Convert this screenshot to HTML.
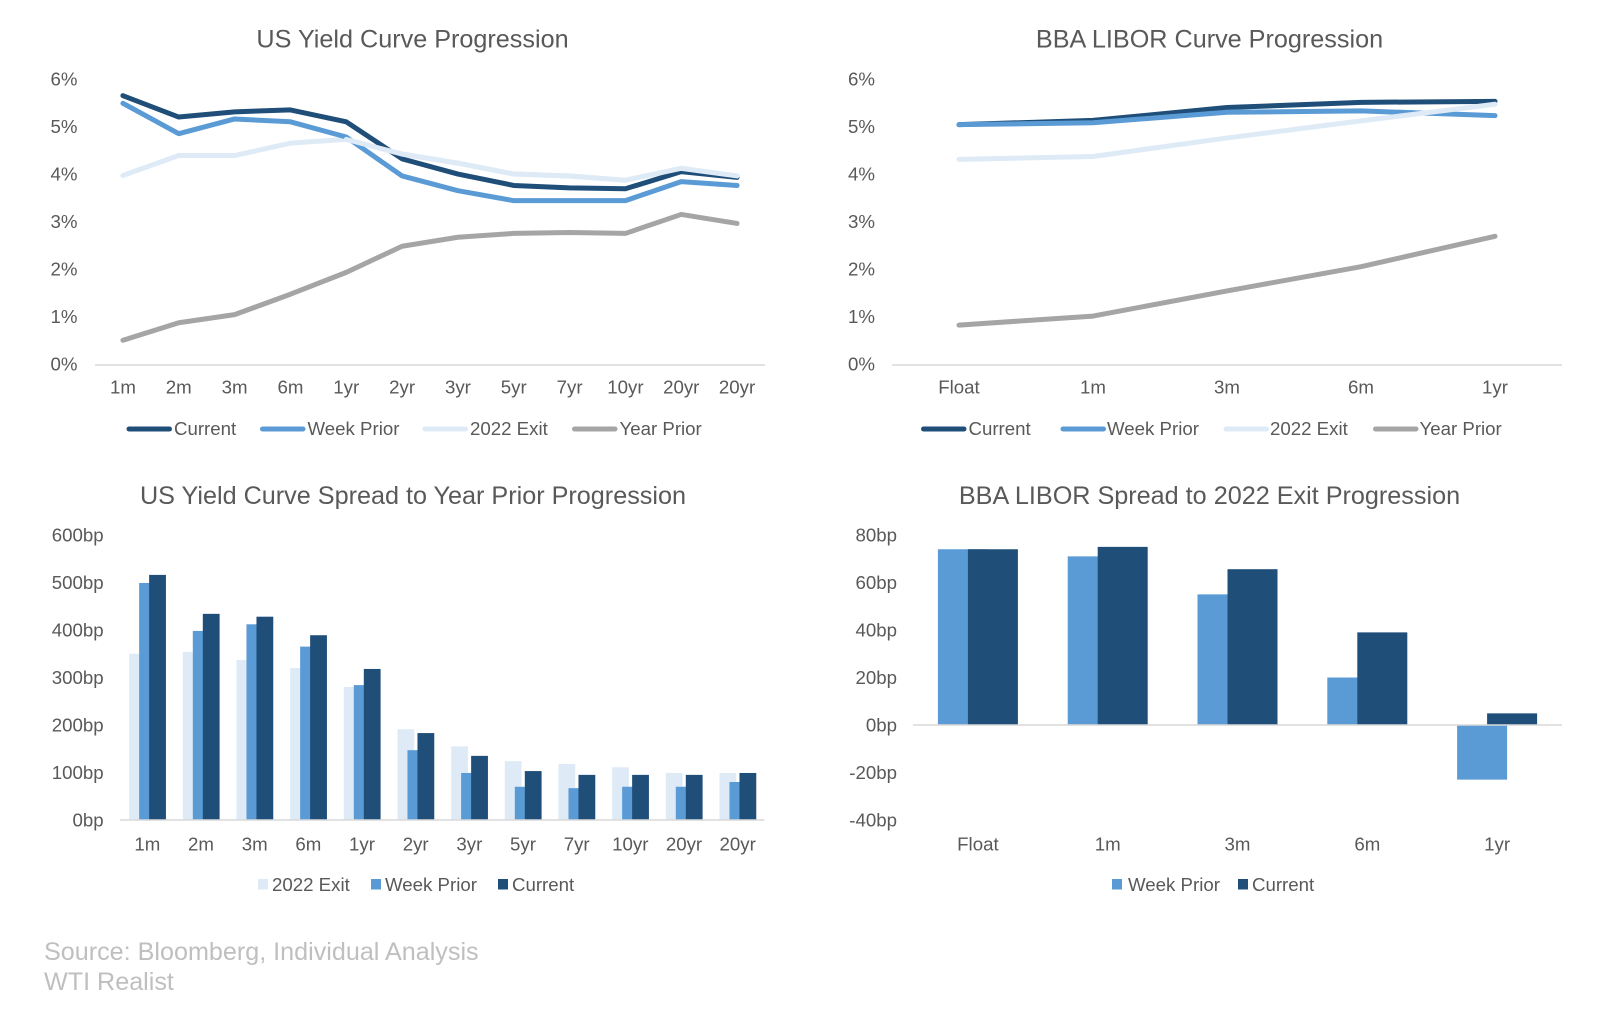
<!DOCTYPE html>
<html lang="en">
<head>
<meta charset="utf-8">
<title>Yield Curve and LIBOR Progression</title>
<style>
html,body{margin:0;padding:0;background:#fff;}
svg{display:block;}
text{font-family:"Liberation Sans",Arial,sans-serif;fill:#595959;}
.tick{font-size:18.67px;}
.leg{font-size:18.67px;}
.title{font-size:25.2px;text-anchor:middle;}
.source{font-size:25.15px;fill:#bfbfbf;}
</style>
</head>
<body>
<svg id="root" xmlns="http://www.w3.org/2000/svg" width="1597" height="1016" viewBox="0 0 1597 1016">
  <rect width="1597" height="1016" fill="#ffffff"/>
  <text class="title" x="412.5" y="47.5">US Yield Curve Progression</text>
  <text class="title" x="1209.5" y="47.5">BBA LIBOR Curve Progression</text>
  <text class="title" x="413" y="504">US Yield Curve Spread to Year Prior Progression</text>
  <text class="title" x="1209.5" y="504">BBA LIBOR Spread to 2022 Exit Progression</text>

  <g id="chart1"></g>
  <g id="chart2"></g>
  <g id="chart3"></g>
  <g id="chart4"></g>

  <g>
    <g><line x1="129" x2="169.5" y1="429" y2="429" stroke="#1f4e79" stroke-width="5" stroke-linecap="round"/><text class="leg" x="174" y="435.2">Current</text></g>
    <g><line x1="262.5" x2="303" y1="429" y2="429" stroke="#5b9bd5" stroke-width="5" stroke-linecap="round"/><text class="leg" x="307.5" y="435.2">Week Prior</text></g>
    <g><line x1="425" x2="465.5" y1="429" y2="429" stroke="#deebf7" stroke-width="5" stroke-linecap="round"/><text class="leg" x="470" y="435.2">2022 Exit</text></g>
    <g><line x1="574.5" x2="615" y1="429" y2="429" stroke="#a5a5a5" stroke-width="5" stroke-linecap="round"/><text class="leg" x="619.5" y="435.2">Year Prior</text></g>
  </g>
  <g>
    <g><line x1="923.5" x2="964" y1="429" y2="429" stroke="#1f4e79" stroke-width="5" stroke-linecap="round"/><text class="leg" x="968.5" y="435.2">Current</text></g>
    <g><line x1="1063" x2="1103.5" y1="429" y2="429" stroke="#5b9bd5" stroke-width="5" stroke-linecap="round"/><text class="leg" x="1107" y="435.2">Week Prior</text></g>
    <g><line x1="1226" x2="1266.5" y1="429" y2="429" stroke="#deebf7" stroke-width="5" stroke-linecap="round"/><text class="leg" x="1270" y="435.2">2022 Exit</text></g>
    <g><line x1="1375.5" x2="1416" y1="429" y2="429" stroke="#a5a5a5" stroke-width="5" stroke-linecap="round"/><text class="leg" x="1419.5" y="435.2">Year Prior</text></g>
  </g>
  <g>
    <g><rect x="258" y="879" width="10" height="10.5" fill="#deebf7"/><text class="leg" x="272" y="891">2022 Exit</text></g>
    <g><rect x="371" y="879" width="10" height="10.5" fill="#5b9bd5"/><text class="leg" x="385" y="891">Week Prior</text></g>
    <g><rect x="498" y="879" width="10" height="10.5" fill="#1f4e79"/><text class="leg" x="512" y="891">Current</text></g>
  </g>
  <g>
    <g><rect x="1112" y="879" width="10" height="10.5" fill="#5b9bd5"/><text class="leg" x="1128" y="891">Week Prior</text></g>
    <g><rect x="1238" y="879" width="10" height="10.5" fill="#1f4e79"/><text class="leg" x="1252" y="891">Current</text></g>
  </g>

  <text class="source" x="44" y="960">Source: Bloomberg, Individual Analysis</text>
  <text class="source" x="44" y="990">WTI Realist</text>
</svg>

<script>
// Chart 1: US yield curve (%)
const usTenors = ['1m','2m','3m','6m','1yr','2yr','3yr','5yr','7yr','10yr','20yr','20yr'];
const usCurrent = [5.67,5.22,5.33,5.37,5.12,4.34,4.02,3.78,3.73,3.71,4.07,3.95];
const usWeekPrior = [5.51,4.87,5.18,5.12,4.80,3.98,3.67,3.46,3.46,3.46,3.86,3.78];
const usExit2022 = [3.99,4.41,4.41,4.67,4.75,4.44,4.25,4.02,3.98,3.89,4.14,3.98];
const usYearPrior = [0.52,0.89,1.06,1.49,1.95,2.50,2.69,2.77,2.79,2.77,3.17,2.98];
const pctTicks = [0,1,2,3,4,5,6];

// Chart 2: BBA LIBOR curve (%)
const liborTenors = ['Float','1m','3m','6m','1yr'];
const liborCurrent = [5.06,5.15,5.42,5.53,5.55];
const liborWeekPrior = [5.06,5.10,5.32,5.35,5.25];
const liborExit2022 = [4.33,4.39,4.78,5.14,5.49];
const liborYearPrior = [0.84,1.03,1.56,2.07,2.71];

// Chart 3: US spread to year prior (bp)
const usSpreadExit = [350,354,337,320,280,191,155,124,118,111,99,99];
const usSpreadWeek = [499,398,412,365,284,147,99,70,67,70,70,80];
const usSpreadCurrent = [516,434,428,389,318,183,135,103,95,95,95,99];
const usSpreadTicks = [0,100,200,300,400,500,600];

// Chart 4: LIBOR spread to 2022 exit (bp)
const liborSpreadWeek = [74,71,55,20,-23];
const liborSpreadCurrent = [74,75,65.6,39,4.9];
const liborSpreadTicks = [-40,-20,0,20,40,60,80];

const NS = 'http://www.w3.org/2000/svg';
const DARK = '#1f4e79', MID = '#5b9bd5', LIGHT = '#deebf7', GREY = '#a5a5a5', AXIS = '#d9d9d9';

function make(parent, tag, attrs, txt) {
  const el = document.createElementNS(NS, tag);
  for (const k in attrs) el.setAttribute(k, attrs[k]);
  if (txt !== undefined) el.textContent = txt;
  parent.appendChild(el);
  return el;
}
function scaleY(min, max, yBottom, yTop) {
  return v => yBottom - (v - min) / (max - min) * (yBottom - yTop);
}
function scaleBand(n, x0, x1) {
  const w = (x1 - x0) / n;
  return i => x0 + w * (i + 0.5);
}
function drawYTicks(g, ticks, fmt, y, xEnd, dy) {
  ticks.forEach(t => {
    const el = make(g, 'text', {class: 'tick', x: xEnd, y: y(t) + dy, 'text-anchor': 'end'}, fmt(t));
    
    
  });
}
function drawXTicks(g, cats, x, yPos) {
  cats.forEach((c, i) => {
    const el = make(g, 'text', {class: 'tick', x: x(i), y: yPos, 'text-anchor': 'middle'}, c);
    
    
  });
}
function drawAxis(g, x0, x1, yPos) {
  const el = make(g, 'line', {x1: x0, x2: x1, y1: yPos, y2: yPos, stroke: AXIS, 'stroke-width': 1.6});
  
  
}
function drawLine(g, values, x, y, color, name) {
  const pts = values.map((v, i) => x(i).toFixed(2) + ',' + y(v).toFixed(2)).join(' ');
  const el = make(g, 'polyline', {points: pts, fill: 'none', stroke: color, 'stroke-width': 5, 'stroke-linejoin': 'round', 'stroke-linecap': 'round'});
  
  
}
function drawBars(g, values, x, y, offset, width, color, name) {
  values.forEach((v, i) => {
    const y0 = y(0), yv = y(v);
    const el = make(g, 'rect', {x: x(i) + offset, y: Math.min(y0, yv), width: width, height: Math.abs(yv - y0), fill: color});
    
    
  });
}

// Chart 1
(function () {
  const g = document.getElementById('chart1');
  const x = scaleBand(usTenors.length, 95, 765);
  const y = scaleY(0, 6, 365, 80);
  drawYTicks(g, pctTicks, t => t + '%', y, 77.5, 5.7);
  drawXTicks(g, usTenors, x, 393.7);
  drawAxis(g, 95, 765, y(0));
  drawLine(g, usYearPrior, x, y, GREY, 'line-year-prior');
  drawLine(g, usExit2022, x, y, LIGHT, 'line-2022-exit');
  drawLine(g, usWeekPrior, x, y, MID, 'line-week-prior');
  drawLine(g, usCurrent, x, y, DARK, 'line-current');
  // 2022 Exit sits above the other curves where they cross in the source chart
  drawLine(g, usExit2022.slice(4), i => x(i + 4), y, LIGHT, 'line-2022-exit-overlap');
})();

// Chart 2
(function () {
  const g = document.getElementById('chart2');
  const x = scaleBand(liborTenors.length, 892, 1562);
  const y = scaleY(0, 6, 365, 80);
  drawYTicks(g, pctTicks, t => t + '%', y, 875, 5.7);
  drawXTicks(g, liborTenors, x, 393.7);
  drawAxis(g, 892, 1562, y(0));
  drawLine(g, liborCurrent, x, y, DARK, 'line-current');
  drawLine(g, liborWeekPrior, x, y, MID, 'line-week-prior');
  drawLine(g, liborExit2022, x, y, LIGHT, 'line-2022-exit');
  drawLine(g, liborYearPrior, x, y, GREY, 'line-year-prior');
})();

// Chart 3
(function () {
  const g = document.getElementById('chart3');
  const x = scaleBand(usTenors.length, 120.5, 764.5);
  const y = scaleY(0, 600, 820, 535);
  drawYTicks(g, usSpreadTicks, t => t + 'bp', y, 103.6, 6.4);
  drawXTicks(g, usTenors, x, 850.4);
  drawBars(g, usSpreadExit, x, y, -18.2, 16.8, LIGHT, 'bar-2022-exit');
  drawBars(g, usSpreadWeek, x, y, -8.2, 16.8, MID, 'bar-week-prior');
  drawBars(g, usSpreadCurrent, x, y, 1.8, 16.8, DARK, 'bar-current');
  drawAxis(g, 120, 764.5, y(0));
})();

// Chart 4
(function () {
  const g = document.getElementById('chart4');
  const x = scaleBand(liborTenors.length, 913, 1562);
  const y = scaleY(-40, 80, 820, 535);
  drawYTicks(g, liborSpreadTicks, t => t + 'bp', y, 897, 6.4);
  drawXTicks(g, liborTenors, x, 850.4);
  drawBars(g, liborSpreadWeek, x, y, -40, 50, MID, 'bar-week-prior');
  drawBars(g, liborSpreadCurrent, x, y, -10, 50, DARK, 'bar-current');
  drawAxis(g, 913, 1562, y(0));
})();
</script>
</body>
</html>
